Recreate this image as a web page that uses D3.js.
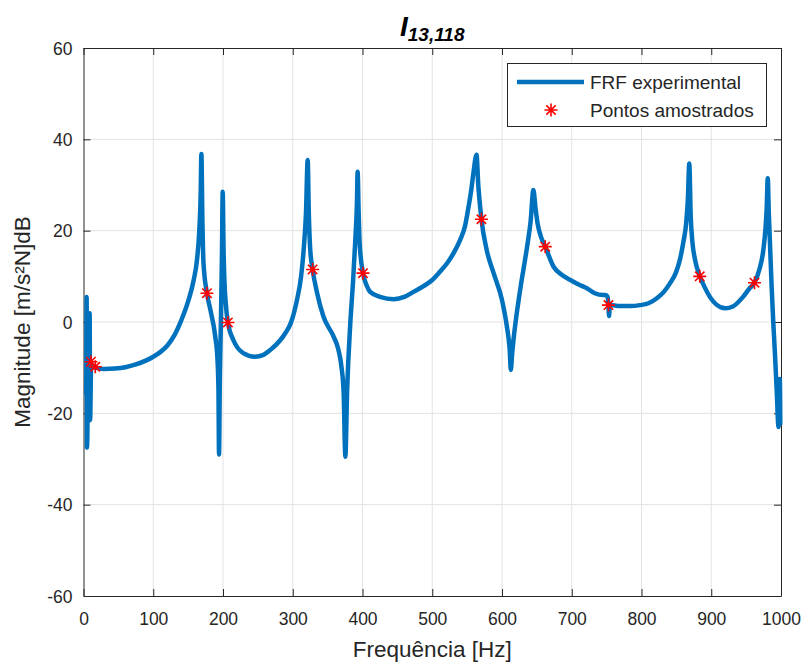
<!DOCTYPE html>
<html>
<head>
<meta charset="utf-8">
<script src="https://cdn.jsdelivr.net/npm/d3@7"></script>
<style>
  body { margin: 0; background: #fff; }
  text { font-family: "Liberation Sans", Arial, sans-serif; fill: #262626; }
</style>
</head>
<body>
<div id="chart"></div>
<script>
// FRF curve (frequency in Hz, magnitude in dB)
const freq = [4.0, 4.5, 5.0, 6.5, 8.8, 9.5, 11, 14, 20, 30, 45, 60, 75, 90, 100, 110, 120, 130, 140, 150,
  158, 163, 166, 168, 169, 170.5, 172, 177, 182, 189, 192, 193.5, 194.3, 195.5, 197, 198.5, 199.6, 200.8, 202, 204,
  207, 215, 229, 246, 258, 268, 282, 290, 297, 306, 312, 316, 319, 321.4, 323, 325, 328.5, 335, 344, 358.6,
  365, 370, 373, 375.4, 378, 382.5, 386.5, 389.7, 392, 393, 394.5, 396, 400.7, 406, 411, 425, 445, 460, 473, 487,
  500, 511, 521, 531, 540, 547, 552, 556, 559, 563.5, 566, 568.8, 570.5, 578, 588, 600, 607, 611, 612.7, 614.5,
  616.5, 626, 636, 641, 645, 648, 651, 656, 662, 674, 686, 698, 710, 721.6, 733, 745, 748, 751, 752.5, 753.5,
  754.5, 757, 762, 769, 784, 798, 810, 822, 832, 841, 849, 855, 860, 864, 866.5, 868.5, 870.6, 873, 876.8, 883.5,
  890, 898, 907.5, 920, 931, 945.6, 955, 962, 969, 974.7, 978, 979.5, 981, 982.5, 984, 986.5, 989, 991.5, 993.8, 996.5,
  998.3, 999];
const mag = [-16, 5.5, -27.5, -14, 1.9, -21.5, -9.2, -9.8, -10.1, -10.3, -10.2, -9.9, -9.3, -8.4, -7.6, -6.6, -5.2, -3.0, 0.3, 4.5,
  9.2, 14, 20, 28, 36.8, 22, 13, 6.3, 2.6, -3.3, -8, -15, -29, -12, 0, 15, 28.5, 16, 9.2, 4,
  -0.1, -4, -6.8, -7.6, -7.2, -6.1, -4, -2.3, -0.3, 4.8, 10, 16.5, 24, 35.5, 24, 16, 11.5, 6.3, 1.2, -3.2,
  -5.8, -10, -15.6, -29.5, -14.9, -0.3, 9, 18, 26, 32.9, 24, 17, 10.7, 8, 6.6, 5.5, 5.0, 5.5, 6.6, 7.8,
  9.2, 11, 12.8, 15.2, 18, 21, 25.2, 29, 32.6, 36.6, 30, 25, 22.5, 15.8, 10.7, 4.8, -1, -6, -10.5, -7,
  -3.9, 7, 16.5, 22, 28.9, 25, 21.6, 18.6, 16.5, 12.1, 10.3, 9.2, 8.2, 7.4, 6.3, 5.9, 5.9, 5.6, 4.0, 1.3,
  3.6, 3.7, 3.6, 3.5, 3.5, 3.7, 4.1, 5.2, 6.6, 8.5, 10.7, 13.6, 17.5, 21.6, 27, 34.7, 23, 17.5, 13.6, 10.1,
  7.8, 5.5, 3.8, 3.0, 3.4, 5.5, 7.4, 8.6, 11.5, 15.8, 21, 25, 31.5, 24, 18, 8, -0.3, -7.5, -14.9, -23,
  -12.5, -22.5];

// sampled points
const sampleFreq = [10.7, 16.9, 177, 207, 328.5, 400.7, 570.5, 662, 752.6, 883.5, 962];
const sampleMag = [-8.7, -9.8, 6.3, -0.1, 11.5, 10.7, 22.5, 16.5, 3.7, 10.0, 8.6];

const xTicks = [0, 100, 200, 300, 400, 500, 600, 700, 800, 900, 1000];
const yTicks = [-60, -40, -20, 0, 20, 40, 60];

const W = 805, H = 664;
const mLeft = 83.5, mRight = 781, mTop = 48, mBottom = 596;
const lineColor = "#0072BD";
const axisColor = "#262626";

const svg = d3.select("#chart").append("svg")
    .attr("width", W)
    .attr("height", H);

const x = d3.scaleLinear().domain([0, 1000]).range([mLeft, mRight]);
const y = d3.scaleLinear().domain([-60, 60]).range([mBottom, mTop]);

// grid
const grid = svg.append("g").attr("stroke", "#e3e3e3").attr("stroke-width", 1);
grid.selectAll("line.gx").data(xTicks.slice(1, -1)).enter().append("line")
    .attr("x1", d => x(d)).attr("x2", d => x(d))
    .attr("y1", mTop).attr("y2", mBottom);
grid.selectAll("line.gy").data(yTicks.slice(1, -1)).enter().append("line")
    .attr("x1", mLeft).attr("x2", mRight)
    .attr("y1", d => y(d)).attr("y2", d => y(d));

// axes (box with inward ticks on every side)
const tk = 7;
const fmt = d => String(d);
const axB = svg.append("g").attr("transform", "translate(0," + mBottom + ")")
    .call(d3.axisBottom(x).tickValues(xTicks).tickFormat(fmt).tickSizeInner(-tk).tickSizeOuter(0).tickPadding(17));
const axT = svg.append("g").attr("transform", "translate(0," + mTop + ")")
    .call(d3.axisTop(x).tickValues(xTicks).tickSizeInner(-tk).tickSizeOuter(0).tickFormat(""));
const axL = svg.append("g").attr("transform", "translate(" + mLeft + ",0)")
    .call(d3.axisLeft(y).tickValues(yTicks).tickFormat(fmt).tickSizeInner(-tk).tickSizeOuter(0).tickPadding(11));
const axR = svg.append("g").attr("transform", "translate(" + mRight + ",0)")
    .call(d3.axisRight(y).tickValues(yTicks).tickSizeInner(-tk).tickSizeOuter(0).tickFormat(""));

[axB, axT, axL, axR].forEach(a => {
  a.select(".domain").attr("stroke", axisColor).attr("stroke-width", 1);
  a.selectAll(".tick line").attr("stroke", axisColor);
  a.selectAll(".tick text").attr("fill", axisColor)
      .style("font-family", "'Liberation Sans', Arial, sans-serif")
      .style("font-size", "17.5px");
});
axL.selectAll(".tick text").attr("dy", "0.35em");

// FRF line
const pts = freq.map((f, i) => [f, mag[i]]);
const line = d3.line()
    .x(d => x(d[0]))
    .y(d => y(d[1]))
    .curve(d3.curveMonotoneX);

svg.append("path")
    .datum(pts)
    .attr("fill", "none")
    .attr("stroke", lineColor)
    .attr("stroke-width", 4.5)
    .attr("stroke-linejoin", "round")
    .attr("d", line);

// asterisk marker like MATLAB '*'
function star(g, cx, cy, r) {
  const s = r * 0.72;
  g.append("path")
    .attr("d", `M${cx - r},${cy}L${cx + r},${cy}M${cx},${cy - r}L${cx},${cy + r}` +
               `M${cx - s},${cy - s}L${cx + s},${cy + s}M${cx - s},${cy + s}L${cx + s},${cy - s}`)
    .attr("stroke", "#ff0000")
    .attr("stroke-width", 1.6)
    .attr("fill", "none");
}
const stars = svg.append("g");
sampleFreq.forEach((f, i) => star(stars, x(f), y(sampleMag[i]), 6.5));

// title
const title = svg.append("text")
    .attr("x", (mLeft + mRight) / 2)
    .attr("y", 36)
    .attr("text-anchor", "middle")
    .style("font-weight", "bold")
    .style("font-style", "italic")
    .style("fill", "#000");
title.append("tspan").style("font-size", "28px").text("I");
title.append("tspan").attr("dy", 5).style("font-size", "19px").text("13,118");

// axis labels
svg.append("text")
    .attr("x", (mLeft + mRight) / 2)
    .attr("y", 657)
    .attr("text-anchor", "middle")
    .style("font-size", "22.5px")
    .text("Frequência [Hz]");

svg.append("text")
    .attr("transform", "translate(30," + ((mTop + mBottom) / 2) + ") rotate(-90)")
    .attr("text-anchor", "middle")
    .style("font-size", "22.5px")
    .text("Magnitude [m/s²N]dB");

// legend
const lg = svg.append("g");
lg.append("rect")
    .attr("x", 507.5).attr("y", 63.5)
    .attr("width", 259).attr("height", 63)
    .attr("fill", "#fff")
    .attr("stroke", axisColor)
    .attr("stroke-width", 1);
lg.append("line")
    .attr("x1", 517).attr("x2", 584)
    .attr("y1", 82).attr("y2", 82)
    .attr("stroke", lineColor).attr("stroke-width", 4.5);
star(lg, 551, 110, 6.5);
lg.append("text").attr("x", 590).attr("y", 82).attr("dy", "0.35em")
    .style("font-size", "19px").text("FRF experimental");
lg.append("text").attr("x", 590).attr("y", 110).attr("dy", "0.35em")
    .style("font-size", "19px").text("Pontos amostrados");
</script>
</body>
</html>
